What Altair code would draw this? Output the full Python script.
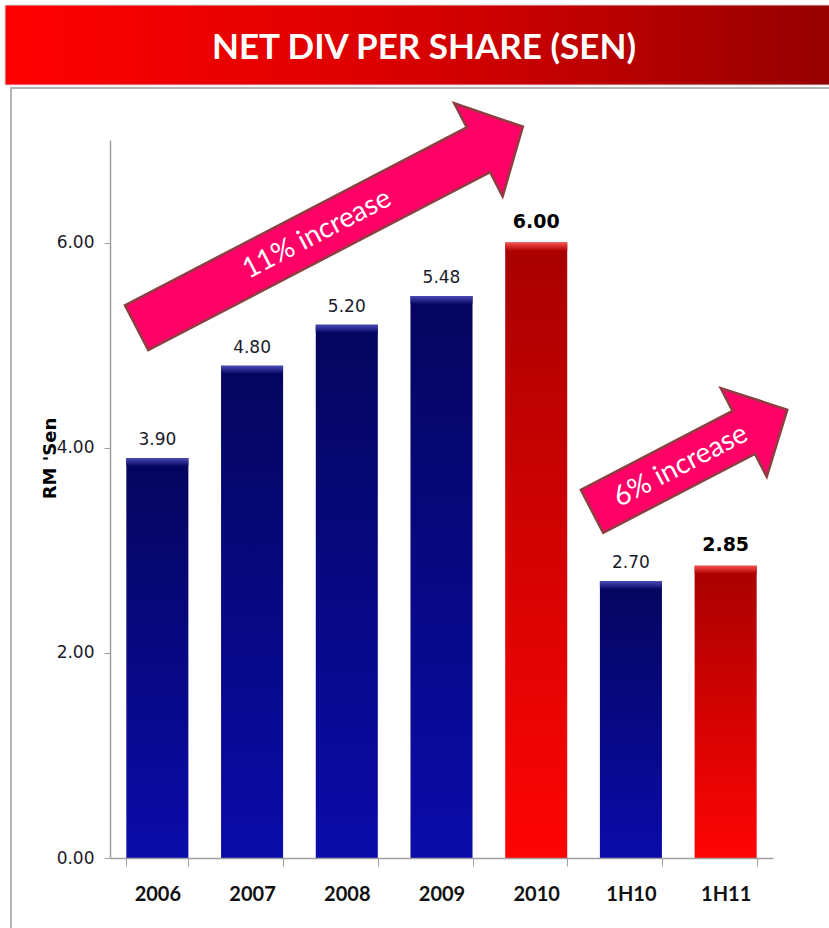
import altair as alt
import pandas as pd

# ---------------- data ----------------
categories = ["2006", "2007", "2008", "2009", "2010", "1H10", "1H11"]
values = [3.90, 4.80, 5.20, 5.48, 6.00, 2.70, 2.85]
highlight = [False, False, False, False, True, False, True]
value_labels = ["3.90", "4.80", "5.20", "5.48", "6.00", "2.70", "2.85"]

y_ticks = [0, 2, 4, 6]
y_max = 7

title_text = "NET DIV PER SHARE (SEN)"
y_title = "RM 'Sen"

# annotation arrows, positioned in data units (x: band-index units 0..7, y: sen)
arrow_labels = ["11% increase", "6% increase"]
arrow_x = [2.32, 6.12]
arrow_y = [6.15, 3.875]
label_x = [2.186, 6.027]
label_y = [6.08, 3.82]

# ---------------- styling ----------------
W, H = 663, 718
PAD = {"left": 110, "top": 140, "right": 56, "bottom": 70}

arrow_paths = [
    "M -1 -0.116 L 0.77 -0.116 L 0.77 -0.241 L 1 0 L 0.77 0.241 L 0.77 0.116 L -1 0.116 Z",
    "M -1 -0.22 L 0.554 -0.22 L 0.554 -0.453 L 1 0 L 0.554 0.453 L 0.554 0.22 L -1 0.22 Z",
]
arrow_sizes = [435.4 ** 2, 220.1 ** 2]
arrow_angle = 332.5

df = pd.DataFrame({
    "cat": categories,
    "value": values,
    "kind": ["red" if h else "blue" for h in highlight],
    "label": value_labels,
})

xenc = alt.X(
    "cat:N", sort=categories,
    scale=alt.Scale(paddingInner=0.345, paddingOuter=0.1725),
    axis=alt.Axis(
        title=None, labelAngle=0, labelFont="Lato", labelFontWeight="bold",
        labelFontSize=20, labelColor="#111111", labelPadding=18,
        tickBand="extent", tickSize=8, tickColor="#a0a0a0",
        domainColor="#a0a0a0", domainWidth=1.5, zindex=1,
    ),
)
yenc = alt.Y(
    "value:Q",
    scale=alt.Scale(domain=[0, y_max], nice=False, zero=True),
    axis=alt.Axis(
        values=y_ticks, format=".2f", grid=False,
        labelFont="DejaVu Sans", labelFontSize=17, labelColor="#1a1a2a",
        labelPadding=10, tickSize=6, tickColor="#a0a0a0",
        domainColor="#a0a0a0", domainWidth=1.5, zindex=1,
        title=y_title, titleFont="DejaVu Sans", titleFontWeight="bold",
        titleFontSize=18, titleColor="#000000", titleAngle=270,
        titleX=-55, titleY=318, titleAlign="center", titleBaseline="alphabetic",
    ),
)

blue_grad = alt.LinearGradient(
    gradient="linear", x1=0, x2=0, y1=0, y2=1,
    stops=[alt.GradientStop(color="#05055e", offset=0),
           alt.GradientStop(color="#0b0baa", offset=1)],
)
red_grad = alt.LinearGradient(
    gradient="linear", x1=0, x2=0, y1=0, y2=1,
    stops=[alt.GradientStop(color="#a80000", offset=0),
           alt.GradientStop(color="#ff0404", offset=1)],
)
blue_bevel = alt.LinearGradient(
    gradient="linear", x1=0, x2=0, y1=0, y2=1,
    stops=[alt.GradientStop(color="#4a4ab4", offset=0),
           alt.GradientStop(color="#0c0c6c", offset=1)],
)
red_bevel = alt.LinearGradient(
    gradient="linear", x1=0, x2=0, y1=0, y2=1,
    stops=[alt.GradientStop(color="#f85050", offset=0),
           alt.GradientStop(color="#b40606", offset=1)],
)

base = alt.Chart(df)

blue_bars = base.transform_filter("datum.kind == 'blue'").mark_bar(fill=blue_grad).encode(x=xenc, y=yenc)
red_bars = base.transform_filter("datum.kind == 'red'").mark_bar(fill=red_grad).encode(x=xenc, y=yenc)

blue_top = (base.transform_filter("datum.kind == 'blue'")
            .transform_calculate(top="datum.value - 0.075")
            .mark_bar(fill=blue_bevel)
            .encode(x=xenc, y="value:Q", y2="top:Q"))
red_top = (base.transform_filter("datum.kind == 'red'")
           .transform_calculate(top="datum.value - 0.075")
           .mark_bar(fill=red_bevel)
           .encode(x=xenc, y="value:Q", y2="top:Q"))

normal_labels = (base.transform_filter("datum.kind == 'blue'")
                 .mark_text(font="DejaVu Sans", fontSize=17, baseline="alphabetic",
                            dy=-13, color="#1a1a2a")
                 .encode(x=xenc, y=yenc, text="label:N"))
bold_labels = (base.transform_filter("datum.kind == 'red'")
               .mark_text(font="DejaVu Sans", fontSize=19, fontWeight="bold",
                          baseline="alphabetic", dy=-15, color="#000000")
               .encode(x=xenc, y=yenc, text="label:N"))

bars_layer = alt.layer(blue_bars, red_bars, blue_top, red_top, normal_labels, bold_labels)

# ---- annotation arrows ----
ann_df = pd.DataFrame({
    "ax": arrow_x, "ay": arrow_y, "lx": label_x, "ly": label_y, "txt": arrow_labels,
})
ax_scale = alt.Scale(domain=[0, 7], nice=False, zero=False)
ay_scale = alt.Scale(domain=[0, y_max], nice=False, zero=True)

arrow_layers = []
for i in range(2):
    a = (alt.Chart(ann_df.iloc[[i]])
         .mark_point(shape=arrow_paths[i], size=arrow_sizes[i], angle=arrow_angle,
                     filled=True, fill="#ff0066", stroke="#8e3e40", strokeWidth=2.5,
                     opacity=1, fillOpacity=1, strokeOpacity=1)
         .encode(x=alt.X("ax:Q", scale=ax_scale, axis=None),
                 y=alt.Y("ay:Q", scale=ay_scale, axis=None)))
    arrow_layers.append(a)

arrow_text = (alt.Chart(ann_df)
              .mark_text(font="Lato", fontSize=28, color="white", angle=arrow_angle,
                         align="center", baseline="middle")
              .encode(x=alt.X("lx:Q", scale=ax_scale, axis=None),
                      y=alt.Y("ly:Q", scale=ay_scale, axis=None),
                      text="txt:N"))

ann_layer = alt.layer(*arrow_layers, arrow_text)

# ---- decoration: frame and title bar ----
deco_df = pd.DataFrame({"t": [title_text]})
frame = alt.Chart(deco_df).mark_rect(fill="white", fillOpacity=0, stroke="#b4b4b4", strokeWidth=2).encode(
    x=alt.value(-99), x2=alt.value(740), y=alt.value(-52), y2=alt.value(820))
title_grad = alt.LinearGradient(
    gradient="linear", x1=0, x2=1, y1=0, y2=0,
    stops=[alt.GradientStop(color="#ff0000", offset=0),
           alt.GradientStop(color="#d80000", offset=0.5),
           alt.GradientStop(color="#960000", offset=1)],
)
title_bar = alt.Chart(deco_df).mark_rect(fill=title_grad, stroke="#d8d8d8", strokeWidth=1).encode(
    x=alt.value(-105), x2=alt.value(722), y=alt.value(-135), y2=alt.value(-55))
title_txt = alt.Chart(deco_df).mark_text(
    font="Lato", fontSize=35, fontWeight="bold", color="white",
    align="center", baseline="alphabetic").encode(
    x=alt.value(314), y=alt.value(-81), text="t:N")
deco = alt.layer(frame, title_bar, title_txt)

chart = (alt.layer(deco, bars_layer, ann_layer)
         .resolve_scale(x="independent", y="independent")
         .properties(width=W, height=H, padding=PAD,
                     autosize=alt.AutoSizeParams(type="none"),
                     background="white")
         .configure_view(stroke=None))

chart.save("out.html", embed_options={"renderer": "svg", "actions": False})
